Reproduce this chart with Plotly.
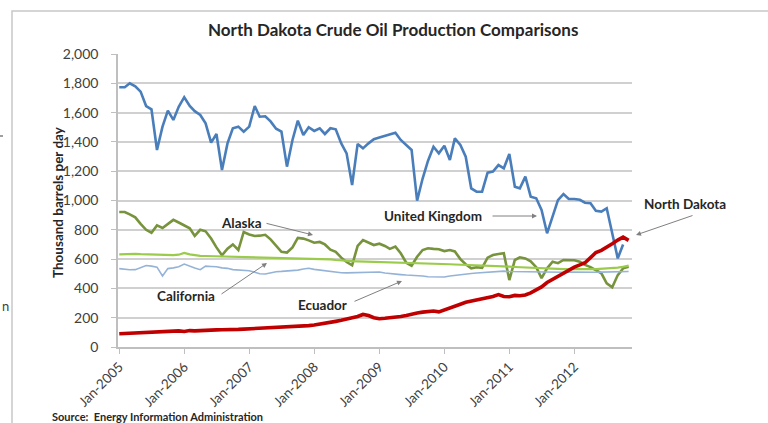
import pandas as pd
import plotly.graph_objects as go

# ---------------- data (thousand barrels per day, monthly from Jan-2005) ----------------
united_kingdom = [
    1773, 1773, 1800, 1780, 1743, 1645, 1622, 1345, 1504, 1613, 1550, 1640,
    1705, 1645, 1610, 1584, 1527, 1395, 1454, 1208, 1390, 1493, 1504, 1470,
    1504, 1645, 1572, 1575, 1540, 1490, 1470, 1231, 1413, 1545, 1447, 1500,
    1475, 1493, 1454, 1493, 1486, 1390, 1322, 1106, 1386, 1356, 1390, 1418,
    1430, 1440, 1450, 1463, 1413, 1380, 1345, 999, 1150, 1270, 1367, 1322,
    1374, 1276, 1424, 1379, 1299, 1083, 1060, 1060, 1190, 1197, 1242, 1220,
    1317, 1094, 1083, 1163, 1026, 1015, 935, 776, 900, 1003, 1044, 1010,
    1010, 1005, 985, 981, 930, 924, 947, 787, 605, 700,
]
alaska = [
    921, 921, 905, 885, 840, 800, 780, 830, 812, 840, 868, 850,
    832, 810, 758, 800, 790, 740, 680, 626, 671, 700, 662, 785,
    768, 758, 760, 766, 735, 695, 650, 645, 680, 745, 740, 728,
    712, 717, 700, 665, 650, 610, 580, 558, 690, 730, 712, 696,
    705, 690, 670, 685, 640, 575, 555, 616, 662, 674, 670, 667,
    655, 662, 652, 600, 565, 537, 544, 540, 610, 628, 635, 640,
    457, 594, 612, 605, 585, 545, 470, 537, 582, 572, 594, 594,
    592, 582, 560, 545, 526, 503, 435, 408, 491, 537, 548,
]
california = [
    632, 635, 638, 636, 634, 632, 630, 628, 630, 628, 627, 630,
    642, 632, 625, 622, 621, 620, 619, 620, 618, 617, 616, 618,
    616, 615, 614, 613, 612, 611, 612, 610, 609, 607, 606, 605,
    604, 602, 600, 598, 594, 590, 588, 586, 585, 584, 583, 582,
    582, 580, 578, 576, 575, 574, 573, 572, 571, 571, 570, 568,
    567, 565, 563, 562, 561, 560, 559, 558, 556, 554, 552, 550,
    548, 546, 544, 542, 540, 538, 536, 535, 534, 533, 532, 531,
    530, 530, 530, 531, 532, 534, 536, 538, 542, 548, 555,
]
ecuador = [
    535, 530, 527, 528, 540, 556, 552, 545, 485, 535, 540, 548,
    566, 550, 540, 528, 552, 550, 548, 540, 537, 528, 525, 522,
    520, 510, 500, 498, 508, 514, 516, 518, 521, 525, 532, 537,
    530, 525, 521, 515, 510, 507, 506, 507, 507, 508, 510, 514,
    512, 505, 500, 498, 494, 491, 490, 488, 485, 480, 478, 476,
    478, 485, 490, 495, 500, 502, 505, 508, 512, 516, 520, 518,
    515, 514, 513, 512, 511, 510, 510, 510, 509, 510, 510, 511,
    510, 510, 509, 510, 510, 511, 512, 512, 513, 514, 515,
]
north_dakota = [
    90, 92, 95, 93, 98, 100, 102, 103, 105, 107, 108, 110,
    106, 112, 110, 113, 112, 115, 117, 118, 117, 119, 120, 122,
    124, 125, 125, 127, 128, 130, 131, 133, 135, 138, 142, 146,
    150, 155, 160, 168, 175, 182, 190, 198, 208, 222, 215, 200,
    193, 196, 198, 203, 208, 215, 225, 232, 238, 242, 246, 240,
    255, 265, 278, 292, 305, 312, 320, 330, 337, 345, 358, 345,
    343, 352, 350, 355, 370, 388, 410, 440, 462, 485, 505, 528,
    545, 560, 575, 610, 645, 660, 680, 705, 730, 750, 728,
]
series_names = ["United Kingdom", "Alaska", "California", "Ecuador", "North Dakota"]
y_ticks = [0, 200, 400, 600, 800, 1000, 1200, 1400, 1600, 1800, 2000]

months = pd.date_range("2005-01-01", periods=95, freq="MS")

# ---------------- figure ----------------
W, H = 768, 423
L, R, T, B = 118, 632, 54, 347


def px(x):
    return (x - L) / (R - L)


def py(y):
    return (B - y) / (B - T)


FONT = "Lato"
fig = go.Figure()

styles = {
    "United Kingdom": dict(color="#4A7EBB", width=2.6),
    "Alaska": dict(color="#77933C", width=2.6),
    "California": dict(color="#9BCB4A", width=2.2),
    "Ecuador": dict(color="#95B3D7", width=1.6),
    "North Dakota": dict(color="#C00000", width=3.6),
}
data_map = {
    "United Kingdom": united_kingdom,
    "Alaska": alaska,
    "California": california,
    "Ecuador": ecuador,
    "North Dakota": north_dakota,
}
for name in ["United Kingdom", "Alaska", "Ecuador", "California", "North Dakota"]:
    vals = data_map[name]
    fig.add_trace(go.Scatter(
        x=months[:len(vals)], y=vals, mode="lines", name=name,
        line=dict(color=styles[name]["color"], width=styles[name]["width"]),
        hoverinfo="skip",
    ))

fig.update_layout(
    width=W, height=H,
    margin=dict(l=L, r=W - R, t=T, b=H - B, pad=0),
    paper_bgcolor="white", plot_bgcolor="white",
    showlegend=False,
    font=dict(family=FONT, color="#404040"),
)
fig.update_xaxes(
    type="date",
    range=["2004-12-25", "2012-11-20"],
    tick0="2005-01-01", dtick="M12", tickformat="%b-%Y",
    tickangle=-45, tickfont=dict(size=13.5, color="#404040", family=FONT),
    showgrid=False, showline=True, linecolor="#bfbfbf", linewidth=1.5,
    ticks="outside", ticklen=5, tickcolor="#bfbfbf", zeroline=False,
    automargin=False,
)
fig.update_yaxes(
    range=[0, 2000], tickvals=y_ticks, tickformat=",d",
    tickfont=dict(size=14, color="#404040", family=FONT),
    showgrid=True, gridcolor="#d0d0d0", gridwidth=1.5,
    showline=True, linecolor="#bfbfbf", linewidth=1.5,
    ticks="outside", ticklen=5, tickcolor="#bfbfbf", ticklabelstandoff=10,
    zeroline=False, automargin=False,
)


def label(text, x, y, size, color="#262626", angle=0, xanchor="center"):
    return dict(text=text, x=px(x), y=py(y), xref="paper", yref="paper",
                xanchor=xanchor, yanchor="middle", textangle=angle,
                showarrow=False, font=dict(size=size, color=color, family=FONT))


ann = []
ann.append(label("<b>North Dakota Crude Oil Production Comparisons</b>", 393, 29, 17))
ann.append(label("<b>Thousand barrels per day</b>", 58, 202, 13.5, angle=-90))

labels = [
    ("United Kingdom", 433, 216),
    ("Alaska", 241, 223),
    ("California", 186, 296),
    ("Ecuador", 322, 305),
    ("North Dakota", 685, 204),
]
for text, lx, ly in labels:
    ann.append(label("<b>" + text + "</b>", lx, ly, 13.5))

# arrows (tip, tail)
arrows = [
    ((537, 216), (491, 216)),
    ((313, 235), (265, 223)),
    ((267, 263), (220, 295)),
    ((402, 281), (353, 302)),
    ((636, 235), (694, 215)),
]
for (tx, ty), (sx, sy) in arrows:
    ann.append(dict(text="", x=px(tx), y=py(ty), xref="paper", yref="paper",
                    ax=sx - tx, ay=sy - ty, axref="pixel", ayref="pixel",
                    showarrow=True, arrowhead=2, arrowsize=1, arrowwidth=1,
                    arrowcolor="#808080"))

ann.append(label("<b>Source:  Energy Information Administration</b>", 50, 416, 11,
                 xanchor="left"))
# stray mark on the left page edge
ann.append(label("n", 0, 306, 13, color="#404040", xanchor="left"))
fig.update_layout(annotations=ann)

# chart border
fig.add_shape(type="rect", xref="paper", yref="paper",
              x0=px(12), x1=px(800), y0=py(460), y1=py(11),
              line=dict(color="#c8c8c8", width=1.5), fillcolor="rgba(0,0,0,0)",
              layer="below")
# small stray dash at the left page edge
fig.add_shape(type="line", xref="paper", yref="paper",
              x0=px(0), x1=px(3), y0=py(136), y1=py(136),
              line=dict(color="#606060", width=1.2))

fig.write_html("out.html", config={"displayModeBar": False},
               post_script="document.body.style.margin='0px';")
